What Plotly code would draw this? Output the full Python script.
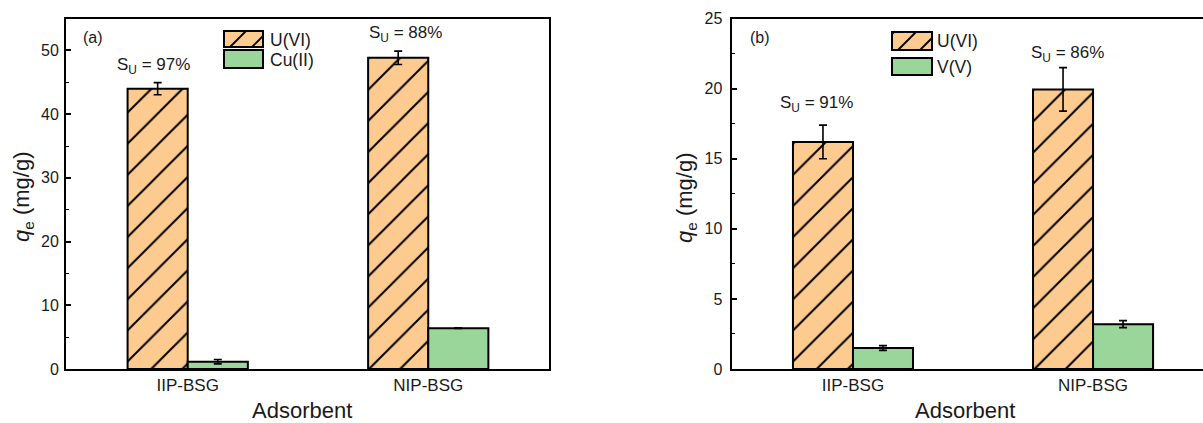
import plotly.graph_objects as go

# ---- data -------------------------------------------------------------
categories = ["IIP-BSG", "NIP-BSG"]

# panel (a): U(VI) vs Cu(II)
a_u = [44.0, 48.85]
a_u_err = [0.95, 1.05]
a_cu = [1.15, 6.4]
a_cu_err = [0.35, 0.05]
a_sel = ["97%", "88%"]

# panel (b): U(VI) vs V(V)
b_u = [16.2, 19.95]
b_u_err = [1.2, 1.55]
b_v = [1.5, 3.2]
b_v_err = [0.17, 0.25]
b_sel = ["91%", "86%"]

# ---- style ------------------------------------------------------------
W, H = 1203, 423
ORANGE = "#FDCB8F"
GREEN = "#9AD69A"
INK = "#1a1a1a"
FONT = "Liberation Sans, Arial, sans-serif"


def px(x):
    return x / W


def py(y):
    return 1 - y / H


def err(vals):
    return dict(type="data", array=vals, visible=True, color="black",
                thickness=1.6, width=4)


hatch = dict(shape="/", fgcolor="black", bgcolor=ORANGE, size=22,
             solidity=0.09, fillmode="replace")

fig = go.Figure()

fig.add_trace(go.Bar(x=categories, y=a_u, error_y=err(a_u_err), name="U(VI)",
                     marker=dict(color=ORANGE, pattern=hatch,
                                 line=dict(color="black", width=2)),
                     xaxis="x", yaxis="y", offsetgroup="u"))
fig.add_trace(go.Bar(x=categories, y=a_cu, error_y=err(a_cu_err), name="Cu(II)",
                     marker=dict(color=GREEN, line=dict(color="black", width=2)),
                     xaxis="x", yaxis="y", offsetgroup="m"))
fig.add_trace(go.Bar(x=categories, y=b_u, error_y=err(b_u_err), name="U(VI)",
                     marker=dict(color=ORANGE, pattern=hatch,
                                 line=dict(color="black", width=2)),
                     xaxis="x2", yaxis="y2", offsetgroup="u"))
fig.add_trace(go.Bar(x=categories, y=b_v, error_y=err(b_v_err), name="V(V)",
                     marker=dict(color=GREEN, line=dict(color="black", width=2)),
                     xaxis="x2", yaxis="y2", offsetgroup="m"))

y_dom = [py(369), py(18.6)]

common_x = dict(type="category", showline=True, linecolor="black", linewidth=2,
                ticks="", showgrid=False, zeroline=False, automargin=False,
                tickfont=dict(size=17, color=INK, family=FONT),
                ticklabelstandoff=0)
common_y = dict(showline=True, linecolor="black", linewidth=2, ticks="inside",
                ticklen=5, tickwidth=1.5, tickcolor="black", showgrid=False,
                zeroline=False, automargin=False,
                tickfont=dict(size=16, color=INK, family=FONT))

fig.update_layout(
    width=W, height=H,
    margin=dict(l=0, r=0, t=0, b=0, pad=0),
    paper_bgcolor="white", plot_bgcolor="white",
    showlegend=False,
    barmode="group", bargap=0.5, bargroupgap=0,
    font=dict(family=FONT, color=INK),
    xaxis=dict(common_x, domain=[px(66), px(549)], range=[-0.506, 1.502],
               mirror=True, anchor="y"),
    yaxis=dict(common_y, domain=y_dom, range=[0, 55], dtick=10, mirror=True,
               anchor="x", ticklabelstandoff=2,
               minor=dict(dtick=5, ticks="inside", ticklen=3, tickwidth=1.2,
                          tickcolor="black")),
    xaxis2=dict(common_x, domain=[px(731.5), 1], range=[-0.506, 1.458],
                mirror=True, anchor="y2"),
    yaxis2=dict(common_y, domain=y_dom, range=[0, 25], dtick=5, mirror=False,
                anchor="x2", ticklabelstandoff=4,
                minor=dict(dtick=2.5, ticks="inside", ticklen=3, tickwidth=1.2,
                           tickcolor="black")),
)

ann = []


def text(x, y, s, size, xanchor="center", **kw):
    ann.append(dict(x=px(x), y=py(y), xref="paper", yref="paper", text=s,
                    showarrow=False, xanchor=xanchor, yanchor="middle",
                    font=dict(size=size, color=INK, family=FONT), **kw))


# axis titles
ytitle = "<i>q</i><sub>e</sub> (mg/g)"
text(23, 197, ytitle, 22, textangle=-90)
text(686, 198, ytitle, 22, textangle=-90)
text(302, 410, "Adsorbent", 22)
text(965, 410, "Adsorbent", 22)

# panel tags
text(93, 37, "(a)", 16)
text(760, 37, "(b)", 16)

# selectivity labels
text(153, 66, "S<sub>U</sub> = " + a_sel[0], 17)
text(405, 34, "S<sub>U</sub> = " + a_sel[1], 17)
text(816, 104, "S<sub>U</sub> = " + b_sel[0], 17)
text(1067, 54, "S<sub>U</sub> = " + b_sel[1], 17)

# legend entries drawn as boxed swatches
shapes = []


def swatch(x0, y0, x1, y1, fill, hatched=False, c0=0):
    shapes.append(dict(type="rect", xref="paper", yref="paper",
                       x0=px(x0), x1=px(x1), y0=py(y1), y1=py(y0),
                       fillcolor=fill, line=dict(width=0)))
    if hatched:
        path = ""
        c = c0 - 22 * 4
        while c < x1 + y1 + 22:
            xa = max(x0, c - y1)
            xb = min(x1, c - y0)
            if xb > xa:
                path += "M{:.5f},{:.5f} L{:.5f},{:.5f} ".format(
                    px(xa), py(c - xa), px(xb), py(c - xb))
            c += 22
        shapes.append(dict(type="path", xref="paper", yref="paper", path=path,
                           line=dict(color="black", width=1.8)))
    shapes.append(dict(type="rect", xref="paper", yref="paper",
                       x0=px(x0), x1=px(x1), y0=py(y1), y1=py(y0),
                       line=dict(color="black", width=2)))


swatch(224, 31, 263, 47, ORANGE, True, 277)
swatch(224, 50, 263, 68, GREEN)
text(268, 40, "U(VI)", 17.5, xanchor="left")
text(268, 60, "Cu(II)", 17.5, xanchor="left")

swatch(892, 32, 932, 50, ORANGE, True, 948)
swatch(892, 58, 932, 75, GREEN)
text(935, 41, "U(VI)", 17.5, xanchor="left")
text(935, 67, "V(V)", 17.5, xanchor="left")

fig.update_layout(annotations=ann, shapes=shapes)

fig.write_html("out.html")
